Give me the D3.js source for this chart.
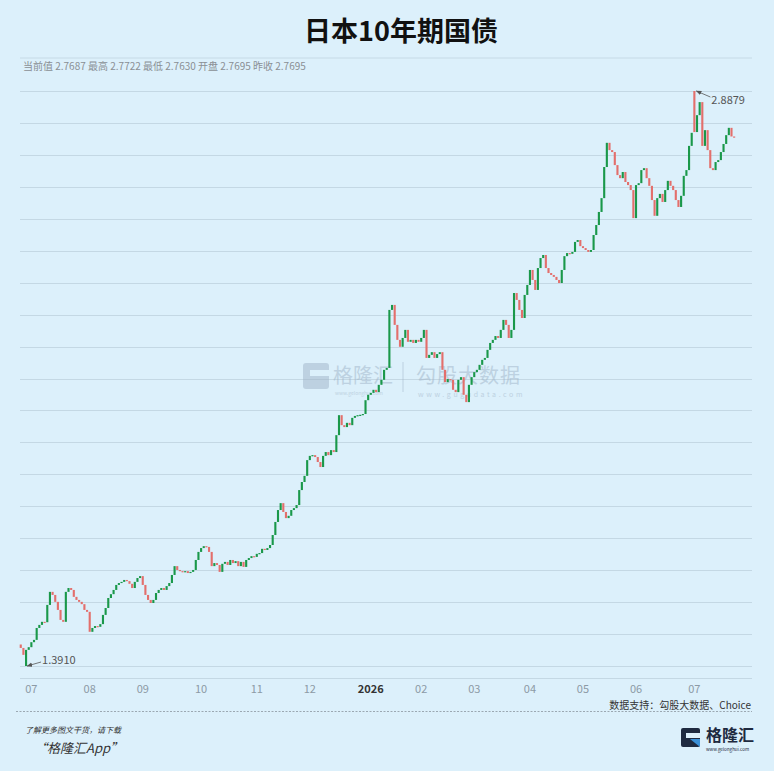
<!DOCTYPE html>
<html>
<head>
<meta charset="utf-8">
<script src="https://cdn.jsdelivr.net/npm/d3@7"></script>
<style>
html,body{margin:0;padding:0;background:#dcf0fb;}
svg{display:block;font-family:"Noto Sans CJK SC","Noto Sans",sans-serif;}
</style>
</head>
<body>
<svg id="c" width="774" height="771"></svg>
<script>
// ---- data (daily closes per month) ----
const monthLabels = ["06","07","08","09","10","11","12","2026","02","03","04","05","06","07"];
const closeJun25 = [1.438,1.420,1.433,1.440];
const closeJul25 = [1.453,1.459,1.490,1.498,1.506,1.505,1.550,1.584,1.576,1.558,1.537,1.511,1.506,1.584,1.594,1.589,1.571,1.563,1.558,1.552,1.537,1.532];
const closeAug25 = [1.480,1.490,1.495,1.493,1.500,1.524,1.542,1.568,1.578,1.589,1.602,1.607,1.610,1.615,1.612,1.605,1.594,1.610,1.620,1.625];
const closeSep25 = [1.602,1.576,1.563,1.555,1.563,1.581,1.589,1.594,1.589,1.599,1.607,1.628,1.651,1.641,1.638,1.636,1.638,1.633,1.636,1.641,1.667,1.688];
const closeOct25 = [1.698,1.703,1.701,1.688,1.651,1.659,1.654,1.636,1.657,1.662,1.654,1.667,1.659,1.664,1.651,1.662,1.649,1.667,1.672,1.677,1.675];
const closeNov25 = [1.683,1.685,1.696,1.693,1.698,1.706,1.732,1.766,1.797,1.815,1.792,1.776,1.782,1.797,1.802,1.810,1.849,1.870,1.886,1.927];
const closeDec25 = [1.938,1.940,1.935,1.922,1.909,1.938,1.948,1.940,1.953,1.948,1.992,2.044,2.018,2.013,2.024,2.018,2.037,2.042,2.044,2.045,2.047,2.083,2.097];
const closeJan26 = [2.102,2.110,2.104,2.123,2.136,2.162,2.167,2.318,2.331,2.279,2.240,2.222,2.245,2.266,2.235,2.240,2.232,2.240,2.235];
const closeFeb26 = [2.245,2.266,2.193,2.201,2.208,2.193,2.203,2.208,2.162,2.130,2.138,2.136,2.110,2.104,2.136,2.143,2.097,2.078,2.123,2.143];
const closeMar26 = [2.156,2.162,2.175,2.188,2.193,2.214,2.232,2.240,2.250,2.245,2.266,2.292,2.279,2.245,2.266,2.362,2.344,2.318,2.297,2.357,2.383];
const closeApr26 = [2.422,2.396,2.370,2.427,2.453,2.461,2.427,2.414,2.409,2.404,2.396,2.388,2.422,2.458,2.466,2.464,2.469,2.495,2.500,2.484];
const closeMay26 = [2.479,2.474,2.469,2.474,2.513,2.539,2.573,2.609,2.690,2.753,2.734,2.729,2.695,2.669,2.661,2.677,2.651,2.643,2.630,2.557];
const closeJun26 = [2.643,2.648,2.682,2.687,2.661,2.641,2.604,2.563,2.609,2.620,2.599,2.630,2.654,2.641,2.630,2.604,2.586,2.615,2.667,2.682,2.745,2.779];
const closeJul26 = [2.781,2.825,2.859,2.745,2.786,2.734,2.687,2.682,2.703,2.708,2.729,2.750,2.773,2.792,2.7695,2.7687];
// opens that differ from the previous close (gaps), by day index
const openGaps = {0:1.447, 2:1.391, 254:2.8879};
const infoLabels = ["当前值","最高","最低","开盘","昨收"];
const infoValues = ["2.7687","2.7722","2.7630","2.7695","2.7695"];

const months = [closeJun25,closeJul25,closeAug25,closeSep25,closeOct25,closeNov25,closeDec25,
                closeJan26,closeFeb26,closeMar26,closeApr26,closeMay26,closeJun26,closeJul26];

// ---- build candles ----
const candles = [];
const monthStarts = [];
months.forEach((arr, m) => {
  monthStarts.push({m, idx: candles.length});
  arr.forEach(c => candles.push({c}));
});
candles.forEach((d, i) => {
  d.i = i;
  d.o = (i in openGaps) ? openGaps[i] : (i > 0 ? candles[i-1].c : d.c);
});

const svg = d3.select("#c");
const L = 20, R = 752;

const x = d3.scaleBand().domain(candles.map(d => d.i)).range([19.7, 735.2]).paddingInner(0.2);
const vmin = d3.min(candles, d => Math.min(d.o, d.c));
const vmax = d3.max(candles, d => Math.max(d.o, d.c));
const y = d3.scaleLinear().domain([vmin, vmax]).range([666, 91]);

// title
svg.append("text").attr("x", 401).attr("y", 41).attr("text-anchor", "middle")
  .attr("font-size", 27).attr("font-weight", "bold").attr("fill", "#111").text("日本10年期国债");

// header separator
svg.append("line").attr("x1", L).attr("x2", R).attr("y1", 58).attr("y2", 58)
  .attr("stroke", "#c6dae6").attr("stroke-width", 1);

// info text
svg.append("text").attr("x", 23).attr("y", 70).attr("font-size", 10).attr("fill", "#8a8f94")
  .text(infoLabels.map((l, k) => l + " " + infoValues[k]).join(" "));

// grid lines
const gridVals = d3.range(19).map(k => vmin + k * (vmax - vmin) / 18);
svg.append("g").selectAll("line").data(gridVals).join("line")
  .attr("x1", L).attr("x2", R)
  .attr("y1", d => Math.round(y(d)) + 0.5).attr("y2", d => Math.round(y(d)) + 0.5)
  .attr("stroke", "#c4d8e4").attr("stroke-width", 1);

// watermark
const wm = svg.append("g").attr("opacity", 0.5);
wm.append("rect").attr("x", 303).attr("y", 363).attr("width", 26).attr("height", 26).attr("rx", 3)
  .attr("fill", "#9fb4c8");
wm.append("rect").attr("x", 310).attr("y", 370).attr("width", 19).attr("height", 6).attr("fill", "#dcf0fb");
wm.append("text").attr("x", 333).attr("y", 383).attr("font-size", 20).attr("fill", "#9fb4c8").text("格隆汇");
wm.append("text").attr("x", 335).attr("y", 395).attr("font-size", 5).attr("fill", "#9fb4c8").text("www.gelonghui.com");
wm.append("line").attr("x1", 403).attr("x2", 403).attr("y1", 362).attr("y2", 392).attr("stroke", "#9fb4c8");
wm.append("text").attr("x", 416).attr("y", 383).attr("font-size", 20).attr("letter-spacing", 1).attr("fill", "#9fb4c8").text("勾股大数据");
wm.append("text").attr("x", 418).attr("y", 397).attr("font-size", 7).attr("letter-spacing", 2.6).attr("fill", "#9fb4c8").text("www.gugudata.com");

// candles
const up = "#1a984a", down = "#e36f6c";
svg.append("g").selectAll("rect").data(candles).join("rect")
  .attr("x", d => x(d.i))
  .attr("width", x.bandwidth())
  .attr("y", d => y(Math.max(d.o, d.c)))
  .attr("height", d => Math.max(1.2, Math.abs(y(d.o) - y(d.c))))
  .attr("fill", d => d.c >= d.o ? up : down);

// x axis line
svg.append("line").attr("x1", L).attr("x2", R).attr("y1", 678.5).attr("y2", 678.5)
  .attr("stroke", "#c4d8e4");

// month ticks
const ticks = monthStarts.slice(1);
svg.append("g").selectAll("text").data(ticks).join("text")
  .attr("x", d => x(d.idx) + x.bandwidth() / 2)
  .attr("y", 693)
  .attr("text-anchor", "middle")
  .attr("font-size", 11)
  .attr("fill", d => monthLabels[d.m].length === 4 ? "#333" : "#8c9aa5")
  .attr("font-weight", d => monthLabels[d.m].length === 4 ? "bold" : "normal")
  .text(d => monthLabels[d.m]);

// extremes annotations
const fmt = d3.format(".4f");
const minC = candles[d3.minIndex(candles, d => Math.min(d.o, d.c))];
const maxC = candles[d3.maxIndex(candles, d => Math.max(d.o, d.c))];
const defs = svg.append("defs");
defs.append("marker").attr("id", "ah").attr("viewBox", "0 0 10 10").attr("refX", 9).attr("refY", 5)
  .attr("markerWidth", 7).attr("markerHeight", 7).attr("orient", "auto")
  .append("path").attr("d", "M0,1 L10,5 L0,9 z").attr("fill", "#555");

const mx = x(minC.i) + x.bandwidth() / 2 + 1, my = y(Math.min(minC.o, minC.c));
svg.append("line").attr("x1", mx + 14).attr("y1", my - 4).attr("x2", mx).attr("y2", my)
  .attr("stroke", "#555").attr("stroke-width", 0.8).attr("marker-end", "url(#ah)");
svg.append("text").attr("x", mx + 15).attr("y", my - 2).attr("font-size", 11).attr("fill", "#555")
  .text(fmt(Math.min(minC.o, minC.c)));

const Mx = x(maxC.i) + x.bandwidth() / 2 + 2, My = y(Math.max(maxC.o, maxC.c));
svg.append("line").attr("x1", Mx + 14).attr("y1", My + 6).attr("x2", Mx).attr("y2", My)
  .attr("stroke", "#555").attr("stroke-width", 0.8).attr("marker-end", "url(#ah)");
svg.append("text").attr("x", Mx + 15).attr("y", My + 13).attr("font-size", 11).attr("fill", "#555")
  .text(fmt(Math.max(maxC.o, maxC.c)));

// source
svg.append("text").attr("x", 751).attr("y", 708.5).attr("text-anchor", "end").attr("font-size", 10)
  .attr("fill", "#333").text("数据支持：勾股大数据、Choice");

// dashed separator
svg.append("line").attr("x1", 16).attr("x2", R).attr("y1", 711.5).attr("y2", 711.5)
  .attr("stroke", "#8a96a0").attr("stroke-width", 0.8).attr("stroke-dasharray", "2,1.5");

// footer left
svg.append("text").attr("x", 25).attr("y", 733).attr("font-size", 8).attr("font-style", "italic")
  .attr("fill", "#333").text("了解更多图文干货，请下载");
svg.append("text").attr("x", 34).attr("y", 753).attr("font-size", 13).attr("font-style", "italic")
  .attr("fill", "#333").text("“格隆汇App”");

// footer logo
const lg = svg.append("g");
lg.append("rect").attr("x", 681).attr("y", 728).attr("width", 19).attr("height", 19).attr("rx", 2).attr("fill", "#1e2a40");
lg.append("rect").attr("x", 686).attr("y", 733).attr("width", 14).attr("height", 5).attr("fill", "#dcf0fb");
lg.append("path").attr("d", "M690,739 L700,739 L700,747 Z").attr("fill", "#3a8fd6");
lg.append("text").attr("x", 706).attr("y", 741).attr("font-size", 16).attr("font-weight", "bold")
  .attr("fill", "#1e2a40").text("格隆汇");
lg.append("text").attr("x", 706).attr("y", 751).attr("font-size", 4.5).attr("fill", "#1e2a40").text("www.gelonghui.com");
</script>
</body>
</html>
